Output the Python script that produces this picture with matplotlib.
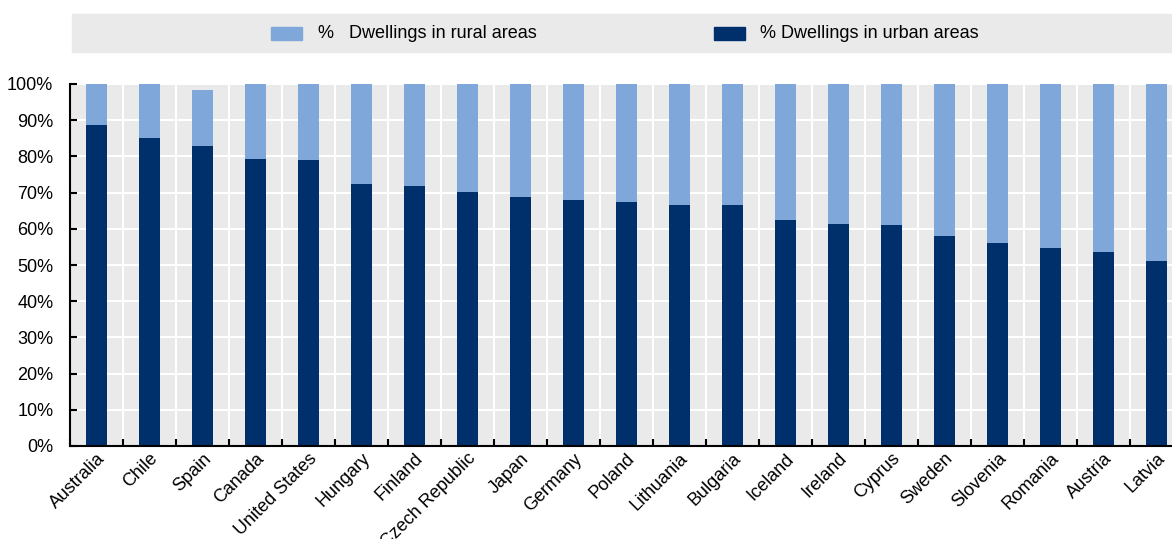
import matplotlib.pyplot as plt
from matplotlib.patches import Rectangle
from matplotlib import font_manager

countries = ["Australia", "Chile", "Spain", "Canada", "United States", "Hungary",
             "Finland", "Czech Republic", "Japan", "Germany", "Poland", "Lithuania",
             "Bulgaria", "Iceland", "Ireland", "Cyprus", "Sweden", "Slovenia",
             "Romania", "Austria", "Latvia"]
urban = [88.7, 85.0, 83.0, 79.3, 79.0, 72.3, 71.7, 70.3, 68.7, 68.0, 67.5, 66.7,
         66.5, 62.5, 61.3, 61.0, 58.0, 56.2, 54.7, 53.7, 51.0]
rural = [11.3, 15.0, 15.3, 20.7, 21.0, 27.7, 28.3, 29.7, 31.3, 32.0, 32.5, 33.3,
         33.5, 37.5, 38.7, 39.0, 42.0, 43.8, 45.3, 46.3, 49.0]

names = {f.name for f in font_manager.fontManager.ttflist}
fam = ["Liberation Sans Narrow"] if "Liberation Sans Narrow" in names else ["Liberation Sans"]
plt.rcParams["font.family"] = fam + ["DejaVu Sans"]
fs = 13

navy = "#00306b"
light = "#7fa7d9"
bg = "#eaeaea"

fig = plt.figure(figsize=(11.72, 5.39), dpi=100)
ax = fig.add_axes([70 / 1172, 93 / 539, 1113 / 1172, 362 / 539])
ax.set_facecolor(bg)

x = range(len(countries))
ax.bar(x, urban, width=0.4, color=navy, zorder=3)
ax.bar(x, rural, width=0.4, bottom=urban, color=light, zorder=3)

ax.set_xlim(-0.5, len(countries) - 0.5)
ax.set_ylim(0, 100)
ax.set_yticks(range(0, 101, 10))
ax.set_yticklabels([f"{v}%" for v in range(0, 101, 10)], fontsize=fs)
ax.set_xticks(list(x))
ax.set_xticklabels(countries, fontsize=fs, rotation=45, ha="right",
                   rotation_mode="anchor")
ax.set_xticks([i - 0.5 for i in range(len(countries) + 1)], minor=True)

ax.tick_params(axis="x", which="major", length=0, pad=3)
ax.tick_params(axis="x", which="minor", direction="in", length=5, width=1.5)
ax.tick_params(axis="y", direction="in", length=5, width=1.5, pad=12)

ax.grid(axis="y", color="white", linewidth=1.5, zorder=0)
ax.grid(axis="x", which="minor", color="white", linewidth=1.5, zorder=0)
ax.set_axisbelow(True)

for s in ["top", "right"]:
    ax.spines[s].set_visible(False)
for s in ["left", "bottom"]:
    ax.spines[s].set_linewidth(1.5)
    ax.spines[s].set_zorder(4)

# legend band
fig.patches.append(Rectangle((72 / 1172, 487 / 539), 1100 / 1172, 38 / 539,
                             transform=fig.transFigure, color=bg, zorder=0))
fig.patches.append(Rectangle((271 / 1172, 499 / 539), 31 / 1172, 13 / 539,
                             transform=fig.transFigure, color=light))
fig.patches.append(Rectangle((714 / 1172, 499 / 539), 31 / 1172, 13 / 539,
                             transform=fig.transFigure, color=navy))
fig.text(318 / 1172, 505.5 / 539, "%   Dwellings in rural areas", fontsize=fs,
         va="center", ha="left")
fig.text(760 / 1172, 505.5 / 539, "% Dwellings in urban areas", fontsize=fs,
         va="center", ha="left")

fig.savefig("out.png", dpi=100)
